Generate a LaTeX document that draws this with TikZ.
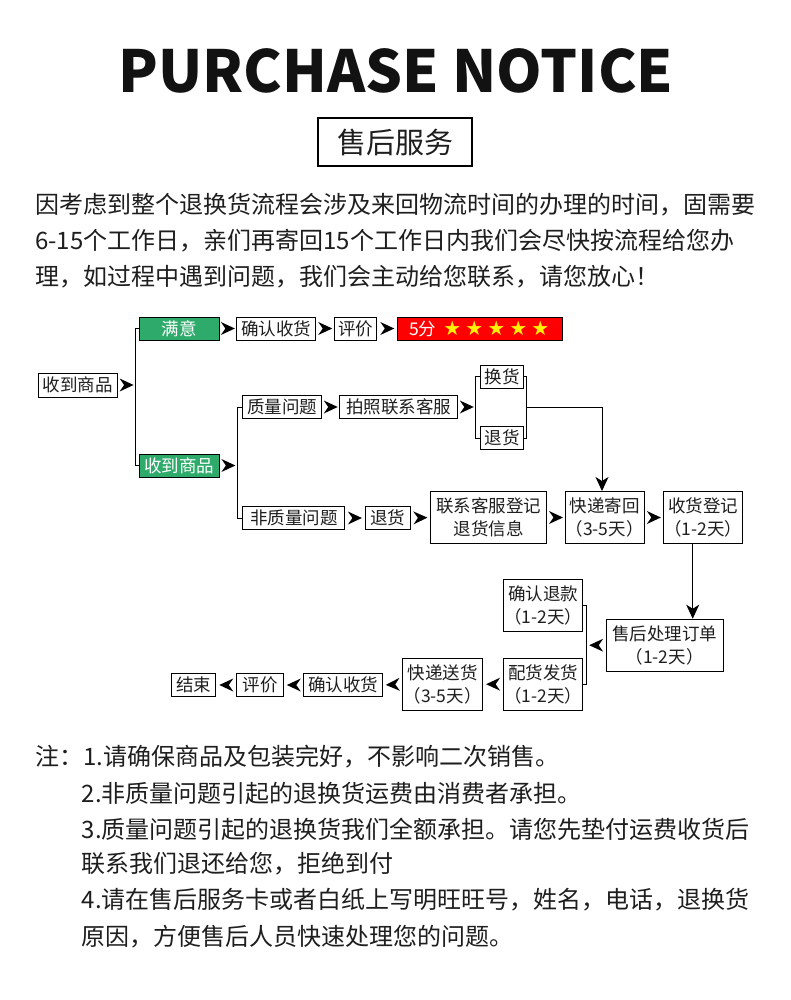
\documentclass[tikz,border=0pt]{standalone}
\usepackage{fontspec}
\setmainfont{Noto Sans CJK SC}
\newfontfamily\dejavu{DejaVu Sans}
\usetikzlibrary{arrows.meta}
\definecolor{gboxc}{RGB}{46,171,107}
\definecolor{txt}{RGB}{30,30,30}
\begin{document}
\begin{tikzpicture}[x=1pt,y=-1pt,
  box/.style={draw=black, line width=1pt, inner sep=0pt, font=\fontsize{17.5}{23}\selectfont, text=txt, align=center},
  gbox/.style={box, fill=gboxc, text=white},
  arr/.pic={\fill[black] (-7,-6.5) -- (7,0) -- (-7,6.5) -- (-2.5,0) -- cycle;},
  ln/.style={line width=1pt},
  tip/.style={ln, -{Stealth[length=14pt,width=13pt,inset=4pt]}},
  para/.style={anchor=west, inner sep=0pt, font=\fontsize{24}{24}\selectfont, text=txt},
  note/.style={anchor=west, inner sep=0pt, font=\fontsize{24}{24}\selectfont, text=txt},
  ga/.style={midway, sloped, allow upside down}
]
\fill[white] (0,0) rectangle (790,1000);
\useasboundingbox (0,0) rectangle (790,1000);

% title
\node[inner sep=0pt, font=\fontsize{58}{58}\selectfont\bfseries, text=black!93] (title) at (396,71) {PURCHASE NOTICE};
\node[draw=black, line width=1.3pt, inner sep=0pt, minimum width=154, minimum height=48, font=\fontsize{29}{29}\selectfont, text=txt] (svc) at (395,142) {售后服务};

% paragraph
\node[para] (p1) at (35,205) {因考虑到整个退换货流程会涉及来回物流时间的办理的时间，固需要};
\node[para] (p2) at (35,241) {6-15个工作日，亲们再寄回15个工作日内我们会尽快按流程给您办};
\node[para] (p3) at (35,277) {理，如过程中遇到问题，我们会主动给您联系，请您放心！};

% flowchart nodes
\node[box, minimum width=79, minimum height=24] (n0) at (77.5,385) {收到商品};
\node[gbox, minimum width=80, minimum height=23] (g1) at (179,328.5) {满意};
\node[box, minimum width=79, minimum height=23] (b1) at (276.2,328.5) {确认收货};
\node[box, minimum width=42, minimum height=23] (b2) at (355.8,328.5) {评价};
\node[box, fill=red, minimum width=165, minimum height=23] (b3) at (480.3,328.5)
  {\textcolor{white}{5分}\hspace{5pt}{\dejavu\fontsize{20}{20}\selectfont\color{yellow}\makebox[22pt]{★}\makebox[22pt]{★}\makebox[22pt]{★}\makebox[22pt]{★}\makebox[22pt]{★}}};
\node[gbox, minimum width=80, minimum height=23] (g2) at (179,465.5) {收到商品};
\node[box, minimum width=79, minimum height=23] (q1) at (282.2,407) {质量问题};
\node[box, minimum width=118, minimum height=23] (q2) at (398.8,407) {拍照联系客服};
\node[box, minimum width=43, minimum height=23] (h1) at (502,376.5) {换货};
\node[box, minimum width=43, minimum height=23] (h2) at (502,438) {退货};
\node[box, minimum width=102, minimum height=23] (n1) at (293.8,518) {非质量问题};
\node[box, minimum width=45, minimum height=23] (n2) at (387.5,518) {退货};
\node[box, minimum width=116, minimum height=52] (n3) at (488.8,517.5) {联系客服登记\\退货信息};
\node[box, minimum width=79, minimum height=52] (k1) at (604.7,517.5) {快递寄回\\（3-5天）};
\node[box, minimum width=79, minimum height=52] (k2) at (703,517.5) {收货登记\\（1-2天）};
\node[box, minimum width=117, minimum height=52] (s1) at (664.7,645.2) {售后处理订单\\（1-2天）};
\node[box, minimum width=79, minimum height=52] (r1) at (543,605.8) {确认退款\\（1-2天）};
\node[box, minimum width=79, minimum height=52] (r2) at (543,684.2) {配货发货\\（1-2天）};
\node[box, minimum width=80, minimum height=52] (e1) at (442.7,684.2) {快递送货\\（3-5天）};
\node[box, minimum width=79, minimum height=23] (e2) at (343.3,685) {确认收货};
\node[box, minimum width=47, minimum height=23] (e3) at (260.3,685) {评价};
\node[box, minimum width=44, minimum height=23] (e4) at (193.8,685) {结束};

% junction coordinates
\coordinate (v1) at (135.7,385);
\coordinate (v2) at (237.3,465.5);
\coordinate (v3) at (475.3,407);
\coordinate (v4) at (526.7,407);
\coordinate (v5) at (586.7,645.2);

% brackets and lines
\draw[ln] (g1.west) -- (g1.west -| v1) -- (g2.west -| v1) -- (g2.west);
\draw[ln] (q1.west) -- (q1.west -| v2) -- (n1.west -| v2) -- (n1.west);
\draw[ln] (h1.west) -- (h1.west -| v3) -- (h2.west -| v3) -- (h2.west);
\draw[ln] (h1.east) -- (h1.east -| v4) -- (h2.east -| v4) -- (h2.east);
\draw[ln] (r1.east) -- (r1.east -| v5) -- (r2.east -| v5) -- (r2.east);
\draw[tip] (v4) -| ([xshift=-2.7pt]k1.north);
\draw[tip] ([xshift=-10.3pt]k2.south) -- ([xshift=-10.3pt]k2.south |- s1.north);

% free-standing arrowheads
\path (n0.east) -- (v1) pic[ga]{arr};
\path (g1.east) -- (b1.west) pic[ga]{arr};
\path (b1.east) -- (b2.west) pic[ga]{arr};
\path (b2.east) -- (b3.west) pic[ga]{arr};
\path (g2.east) -- (v2) pic[ga]{arr};
\path (q1.east) -- (q2.west) pic[ga]{arr};
\path (q2.east) -- (v3) pic[ga]{arr};
\path (n1.east) -- (n2.west) pic[ga]{arr};
\path (n2.east) -- (n3.west) pic[ga]{arr};
\path (n3.east) -- (k1.west) pic[ga]{arr};
\path (k1.east) -- (k2.west) pic[ga]{arr};
\path (s1.west) -- (v5) pic[ga]{arr};
\path (r2.west) -- (e1.east) pic[ga]{arr};
\path (e1.west) -- (e2.east) pic[ga]{arr};
\path (e2.west) -- (e3.east) pic[ga]{arr};
\path (e3.west) -- (e4.east) pic[ga]{arr};

% notes
\node[note] (t1) at (35,757) {注：1.请确保商品及包装完好，不影响二次销售。};
\node[note] (t2) at (81.7,793) {2.非质量问题引起的退换货运费由消费者承担。};
\node[note] (t3) at (81.7,829) {3.质量问题引起的退换货我们全额承担。请您先垫付运费收货后};
\node[note] (t4) at (81.7,864) {联系我们退还给您，拒绝到付};
\node[note] (t5) at (81.7,900) {4.请在售后服务卡或者白纸上写明旺旺号，姓名，电话，退换货};
\node[note] (t6) at (81.7,937) {原因，方便售后人员快速处理您的问题。};
\end{tikzpicture}
\end{document}
